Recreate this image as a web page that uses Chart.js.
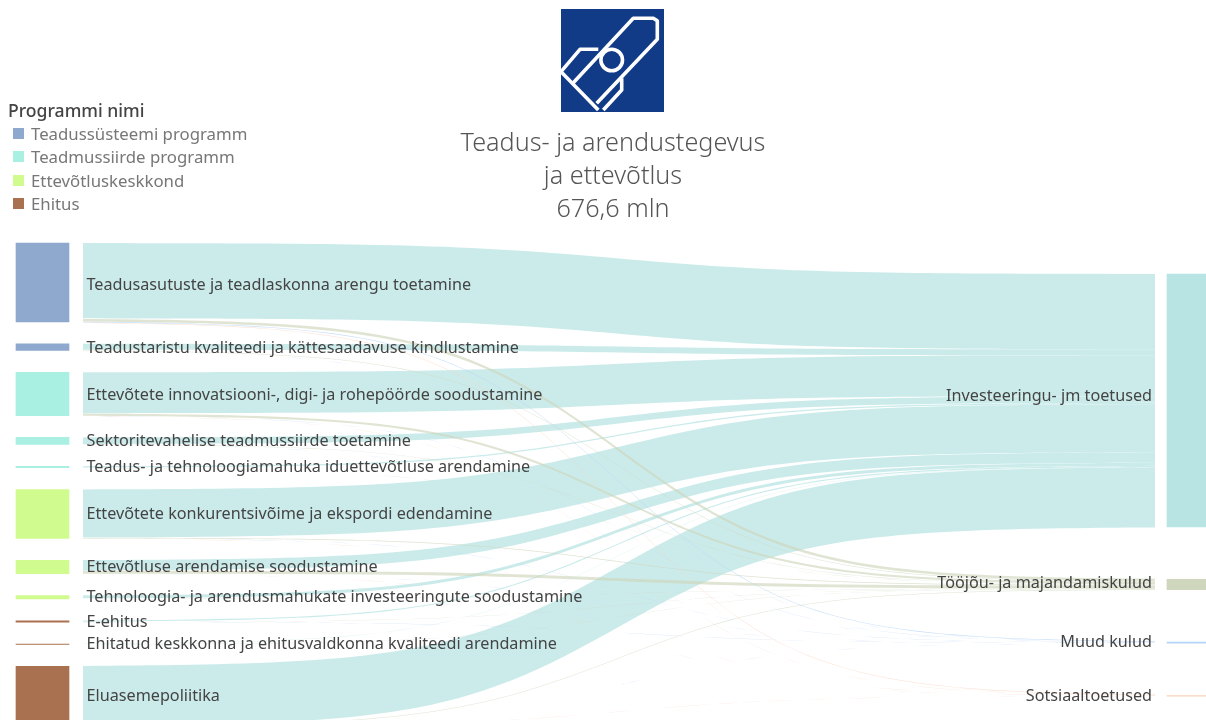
<!DOCTYPE html>
<html>
<head>
<meta charset="UTF-8">
<title>Teadus- ja arendustegevus ja ettevõtlus</title>
<script src="https://cdn.jsdelivr.net/npm/chart.js"></script>
<style>
  html, body { margin: 0; padding: 0; background: #fff; }
  body { width: 1206px; height: 720px; position: relative; overflow: hidden; font-family: "Noto Sans", sans-serif; }
  #sankey { position: absolute; left: 0; top: 0; }
  #logo { position: absolute; left: 561px; top: 9px; width: 103px; height: 103px; }
  #title { position: absolute; left: 413px; top: 125px; width: 400px; text-align: center; color: #555; font-size: 25.2px; font-weight: 300; line-height: 33.2px; }
  #legend { position: absolute; left: 8px; top: 98px; color: #777; font-size: 16.8px; }
  #legend .head { color: #444; font-size: 17.6px; font-weight: 500; height: 24px; line-height: 24px; }
  #legend .row { position: relative; height: 23.3px; line-height: 23.3px; padding-left: 23px; }
  #legend .row i { position: absolute; left: 5px; top: 6px; width: 11px; height: 11px; }
</style>
</head>
<body>
<canvas id="sankey" width="1206" height="720"></canvas>

<svg id="logo" viewBox="0 0 103 103">
  <rect width="103" height="103" fill="#123b87"/>
  <g fill="none" stroke="#fff" stroke-width="3.6" stroke-linejoin="round">
    <path d="M12.3 73.7 L72.3 9.3 L92.3 9.3 L96.3 11.7 L96.3 30.3 L35.7 94.3"/>
    <path d="M37.3 40.3 L19 40.3 L0 62.7 L37.3 101"/>
    <path d="M60.7 69.3 L60.7 81 L42.3 101"/>
    <circle cx="50.7" cy="51" r="10.8" fill="#123b87"/>
  </g>
</svg>

<div id="title">Teadus- ja arendustegevus<br>ja ettevõtlus<br>676,6 mln</div>

<div id="legend">
  <div class="head">Programmi nimi</div>
</div>

<script>
// ------------------- data, mln eur -------------------
const programs = ['Teadussüsteemi programm', 'Teadmussiirde programm', 'Ettevõtluskeskkond', 'Ehitus'];
const programColors = ['#8ea9cd', '#a9f0e2', '#d0fb8e', '#aa7150'];

const sources = [
  'Teadusasutuste ja teadlaskonna arengu toetamine',
  'Teadustaristu kvaliteedi ja kättesaadavuse kindlustamine',
  'Ettevõtete innovatsiooni-, digi- ja rohepöörde soodustamine',
  'Sektoritevahelise teadmussiirde toetamine',
  'Teadus- ja tehnoloogiamahuka iduettevõtluse arendamine',
  'Ettevõtete konkurentsivõime ja ekspordi edendamine',
  'Ettevõtluse arendamise soodustamine',
  'Tehnoloogia- ja arendusmahukate investeeringute soodustamine',
  'E-ehitus',
  'Ehitatud keskkonna ja ehitusvaldkonna kvaliteedi arendamine',
  'Eluasemepoliitika'
];
const sourceProgram = [0, 0, 1, 1, 1, 2, 2, 2, 3, 3, 3];

const targets = ['Investeeringu- jm toetused', 'Tööjõu- ja majandamiskulud', 'Muud kulud', 'Sotsiaaltoetused'];
const targetColors = ['#b9e4e4', '#ced6bc', '#b5d4f7', '#f9d3bd'];

const investValues = [192.2, 15.3, 104.4, 16.8, 3.3, 122.5, 26.6, 7.9, 2.8, 0.6, 153.3];
const laborValues  = [6.6, 1.3, 5.4, 0.8, 0.3, 1.8, 7.4, 0.5, 0.3, 0.5, 1.3];
const otherValues  = [1.5, 0.1, 0.3, 0.1, 0.0, 0.2, 0.1, 0.1, 0.3, 0.0, 0.1];
const socialValues = [1.2, 0.1, 0.3, 0.0, 0.0, 0.1, 0.1, 0.0, 0.0, 0.0, 0.2];
const flowValues = [investValues, laborValues, otherValues, socialValues];

// ------------------- layout -------------------
const MLN_PER_PX = 2.553;
const RIBBON_X0 = 83, RIBBON_X1 = 1155;
const LEFT_BAR_X = 42.5, RIGHT_BAR_X = 1193.5, BAR_W = 53;
const LEFT_TOP = 243 * MLN_PER_PX, LEFT_GAP = 21.9 * MLN_PER_PX;
const RIGHT_TOP = 274 * MLN_PER_PX, RIGHT_GAP = 52.4 * MLN_PER_PX;
const LABEL_FONT = '16.2px "Noto Sans"';
const leftLabelShift = [2.5, 1, 1, 0, 0, 0, 0, 0, 1, 0, 0];
const rightLabelShift = [-4, -1, 0, 1];
const STEPS = 80;

function logistic(t) {
  return 1 / (1 + Math.exp(-(12 * t - 6)));
}

// tableau style curve between two y values
function edge(yLeft, yRight) {
  const pts = [];
  for (let i = 0; i <= STEPS; i++) {
    const t = i / STEPS;
    pts.push({ x: RIBBON_X0 + (RIBBON_X1 - RIBBON_X0) * t, y: yLeft + (yRight - yLeft) * logistic(t) });
  }
  return pts;
}

function sum(arr) { return arr.reduce((a, b) => a + b, 0); }

const sourceTotals = sources.map((s, i) => sum(flowValues.map(f => f[i])));
const targetTotals = flowValues.map(sum);

let y = LEFT_TOP;
const sourceTops = sourceTotals.map(v => { const t = y; y += v + LEFT_GAP; return t; });
y = RIGHT_TOP;
const targetTops = targetTotals.map(v => { const t = y; y += v + RIGHT_GAP; return t; });

// nodes first so they stay on top
const datasets = [
  {
    type: 'bar',
    data: sources.map((s, i) => ({ x: LEFT_BAR_X, y: [sourceTops[i], sourceTops[i] + sourceTotals[i]] })),
    backgroundColor: sourceProgram.map(p => programColors[p]),
    barThickness: BAR_W,
    grouped: false
  },
  {
    type: 'bar',
    data: targets.map((s, i) => ({ x: RIGHT_BAR_X, y: [targetTops[i], targetTops[i] + targetTotals[i]] })),
    backgroundColor: targetColors,
    barThickness: BAR_W,
    grouped: false
  }
];

function alpha(hex, a) {
  const n = parseInt(hex.slice(1), 16);
  return `rgba(${n >> 16}, ${(n >> 8) & 255}, ${n & 255}, ${a})`;
}

// ribbons: pair of line datasets, filled from upper edge to lower edge
const leftOffset = sources.map(() => 0);
const rightOffset = targets.map(() => 0);
sources.forEach((s, i) => {
  targets.forEach((t, j) => {
    const v = flowValues[j][i];
    const yL = sourceTops[i] + leftOffset[i];
    const yR = targetTops[j] + rightOffset[j];
    leftOffset[i] += v;
    rightOffset[j] += v;
    if (v <= 0) return;
    datasets.push({
      type: 'line',
      data: edge(yL, yR),
      borderWidth: 0,
      pointRadius: 0,
      backgroundColor: alpha(targetColors[j], j == 1 ? 0.65 : 0.75),
      fill: { target: datasets.length + 1 }
    });
    datasets.push({
      type: 'line',
      data: edge(yL + v, yR + v),
      borderWidth: 0,
      pointRadius: 0,
      fill: false
    });
  });
});

const nodeLabels = {
  id: 'nodeLabels',
  afterDatasetsDraw(chart) {
    const { ctx, scales } = chart;
    ctx.save();
    ctx.font = LABEL_FONT;
    ctx.fillStyle = '#444';
    ctx.textBaseline = 'middle';
    ctx.textAlign = 'left';
    sources.forEach((s, i) => {
      ctx.fillText(s, scales.x.getPixelForValue(86.5), scales.y.getPixelForValue(sourceTops[i] + sourceTotals[i] / 2) + leftLabelShift[i]);
    });
    ctx.textAlign = 'right';
    targets.forEach((s, i) => {
      ctx.fillText(s, scales.x.getPixelForValue(1152), scales.y.getPixelForValue(targetTops[i] + targetTotals[i] / 2) + rightLabelShift[i]);
    });
    ctx.restore();
  }
};

new Chart(document.getElementById('sankey'), {
  type: 'bar',
  data: { datasets },
  plugins: [nodeLabels],
  options: {
    responsive: false,
    animation: false,
    events: [],
    scales: {
      x: { type: 'linear', display: false, min: 0, max: 1206, offset: false },
      y: { type: 'linear', display: false, min: 0, max: 720 * MLN_PER_PX, reverse: true }
    },
    plugins: {
      legend: { display: false },
      tooltip: { enabled: false },
      filler: { propagate: false }
    }
  }
});

// legend
const legendBox = document.getElementById('legend');
programs.forEach((p, i) => {
  const row = document.createElement('div');
  row.className = 'row';
  row.innerHTML = `<i style="background:${programColors[i]}"></i>${p}`;
  legendBox.appendChild(row);
});
</script>
</body>
</html>
